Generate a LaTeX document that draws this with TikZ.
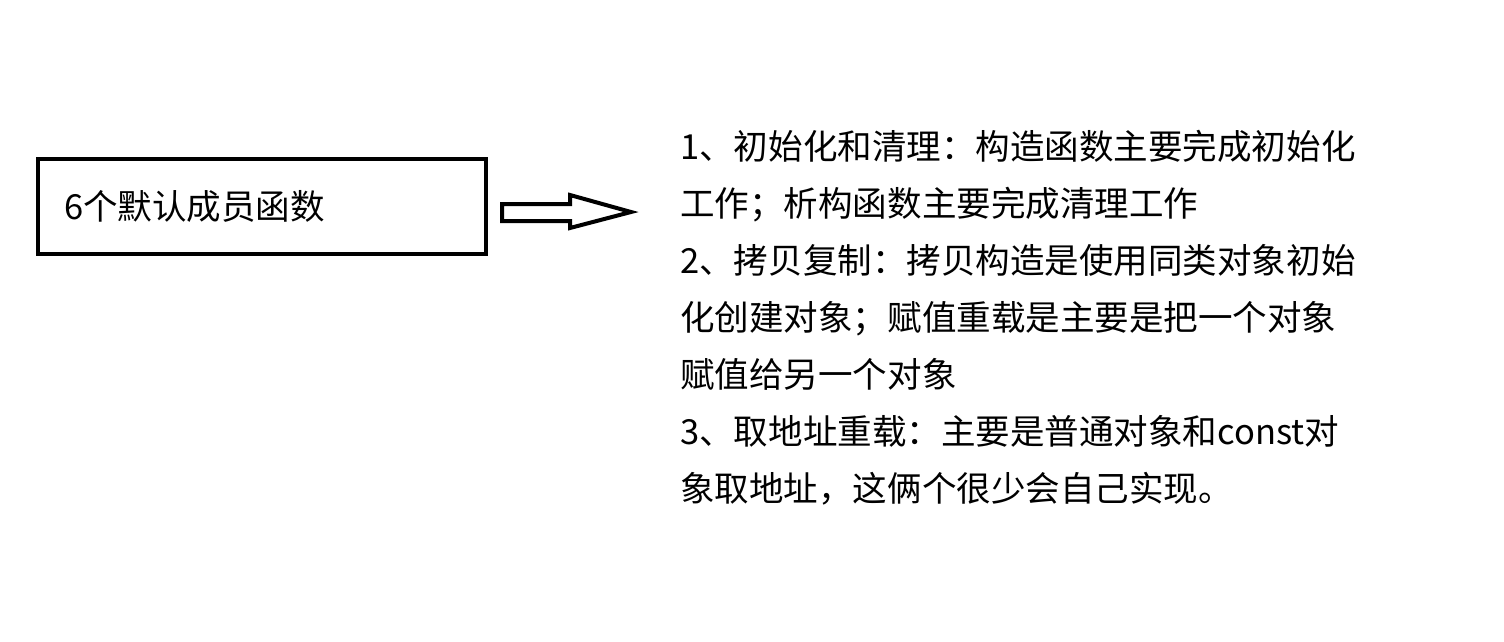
\documentclass[tikz,border=0pt]{standalone}
\usepackage{fontspec}
\setmainfont{Noto Sans CJK SC}
\usetikzlibrary{positioning}

\begin{document}
\begin{tikzpicture}[x=0.75pt, y=-0.75pt,
    funcbox/.style={rectangle, draw=black, line width=3.4pt,
                    minimum width=336pt, minimum height=71.25pt,
                    text width=297pt, align=left, inner xsep=19.5pt,
                    font=\fontsize{25.9pt}{31pt}\selectfont},
    bigarrow/.style={draw=black, line width=3pt, line join=miter},
    notes/.style={align=left, inner sep=0pt,
                  font=\fontsize{25.9pt}{42.75pt}\selectfont}
]
\useasboundingbox (0,0) rectangle (1504,642);

% Members box
\node[funcbox] (members) at (262,206.5) {6个默认成员函数};

% Hollow arrow
\draw[bigarrow] (502,204) -- (570,204) -- (570,195) -- (631,212)
    -- (570,228) -- (570,221) -- (502,221) -- cycle;

% Notes
\node[notes, anchor=north west] (notes) at (680,130) {%
1、初始化和清理：构造函数主要完成初始化\\
工作；析构函数主要完成清理工作\\
2、拷贝复制：拷贝构造是使用同类对象初始\\
化创建对象；赋值重载是主要是把一个对象\\
赋值给另一个对象\\
3、取地址重载：主要是普通对象和const对\\
象取地址，这俩个很少会自己实现。};

\end{tikzpicture}
\end{document}
